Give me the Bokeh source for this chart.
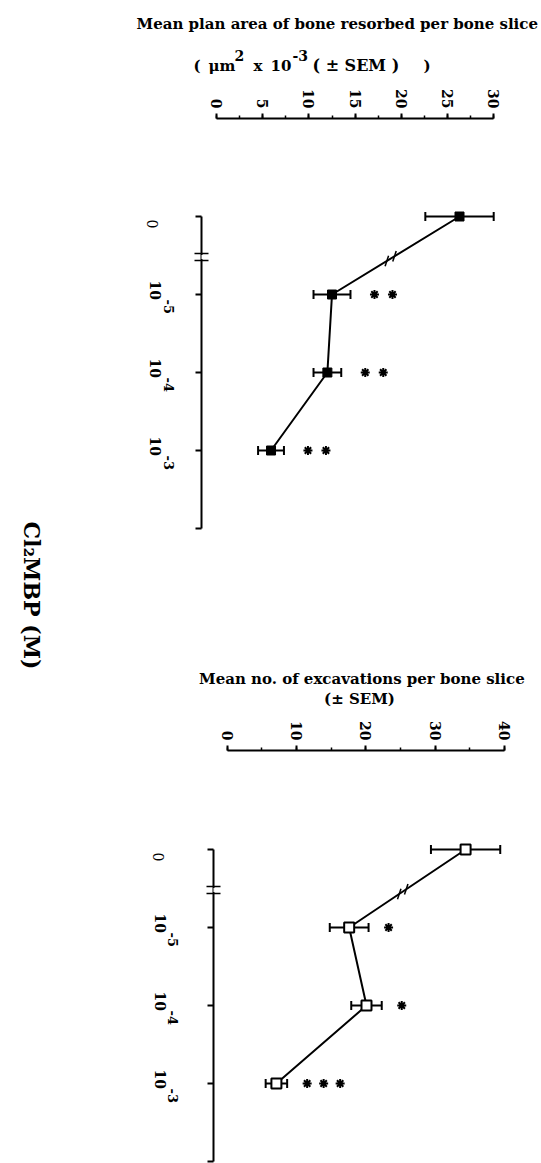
import math
from bokeh.plotting import figure
from bokeh.layouts import row, column
from bokeh.models import Range1d, SingleIntervalTicker, FixedTicker, BoxAnnotation
from bokeh.core.properties import value
from bokeh.embed import file_html
from bokeh.resources import INLINE

# ---------------- data ----------------
conc_pos = [0, 1, 2, 3]
conc_base = ["0", "10", "10", "10"]
conc_exp = ["", "-5", "-4", "-3"]

area_mean = [26.3, 12.5, 12.0, 5.9]
area_sem = [3.7, 2.0, 1.5, 1.4]
area_stars = ["", "**", "**", "**"]

exc_mean = [34.4, 17.6, 20.1, 7.1]
exc_sem = [5.0, 2.8, 2.2, 1.55]
exc_stars = ["", "*", "*", "***"]

area_title = "Mean plan area  of bone resorbed  per bone slice"
area_sub = ["(", "μm", "2", "x", "10", "-3", "( ± SEM )", ")"]
area_sub_raised = [False, False, True, False, False, True, False, False]
exc_title = "Mean no. of excavations  per bone slice"
exc_sub = "(± SEM)"
conc_title = "Cl₂MBP (M)"

FONT = "DejaVu Serif"
BREAK_AT = 0.54
NEG90 = -math.pi / 2

# ---------------- layout (page has no margin) ----------------
TOTAL_W, TOTAL_H = 541, 1163
LEFT_W = 53
COL_W = TOTAL_W - LEFT_W
LAB_W = 130
PW = COL_W - LAB_W


def plain_fig(w, h, xr, yr, **kw):
    f = figure(width=w, height=h, x_range=xr, y_range=yr, toolbar_location=None,
               output_backend="svg", x_axis_type=None, y_axis_type=None,
               outline_line_color=None, **kw)
    f.grid.visible = False
    return f


def panel(height, mbl, mbt, mbb, mbr, zero_px_off, xscale, zero_cat_off, yscale,
          xmax_axis, xint, mean, sem, stars, filled, star_gap, star_sp):
    fw = PW - mbl - mbr
    fh = height - mbt - mbb
    x0 = -zero_px_off / xscale
    x1 = x0 + fw / xscale
    ytop = -zero_cat_off / yscale
    ybot = ytop + fh / yscale
    p = figure(width=PW, height=height, x_range=Range1d(x0, x1),
               y_range=Range1d(ybot, ytop), toolbar_location=None,
               output_backend="svg", x_axis_location="above",
               min_border_left=mbl, min_border_right=mbr, min_border_top=mbt,
               min_border_bottom=mbb, outline_line_color=None)
    p.grid.visible = False

    xa = p.xaxis[0]
    xa.ticker = SingleIntervalTicker(interval=xint, num_minor_ticks=2)
    xa.bounds = (0, xmax_axis)
    xa.major_label_orientation = NEG90
    xa.major_label_text_font = FONT
    xa.major_label_text_font_style = "bold"
    xa.major_label_text_font_size = "14px"
    xa.major_label_text_color = "black"
    xa.major_label_standoff = 5
    xa.axis_line_width = 2
    xa.axis_line_color = "black"
    xa.major_tick_in = 0
    xa.major_tick_out = 5
    xa.major_tick_line_width = 2
    xa.minor_tick_in = 0
    xa.minor_tick_out = 3
    xa.minor_tick_line_width = 1.5

    ya = p.yaxis[0]
    ya.ticker = FixedTicker(ticks=conc_pos + [len(conc_pos)],
                            minor_ticks=[BREAK_AT - 0.06, BREAK_AT + 0.02])
    ya.bounds = (0, len(conc_pos))
    ya.major_label_overrides = {c: "" for c in conc_pos + [len(conc_pos)]}
    ya.major_label_standoff = 0
    ya.axis_line_width = 2
    ya.axis_line_color = "black"
    ya.major_tick_in = 0
    ya.major_tick_out = 6
    ya.major_tick_line_width = 2
    ya.minor_tick_in = 7
    ya.minor_tick_out = 7
    ya.minor_tick_line_width = 1.5

    # gap in the category axis at the break
    p.add_layout(BoxAnnotation(left=x0 - 2, right=x0 + 0.2,
                               bottom=BREAK_AT - 0.045, top=BREAK_AT + 0.005,
                               fill_color="white", fill_alpha=1, line_color=None))

    lo = [m - s for m, s in zip(mean, sem)]
    hi = [m + s for m, s in zip(mean, sem)]

    p.line(mean, conc_pos, line_color="black", line_width=2)
    d = 0.03
    bxa = mean[0] + (mean[1] - mean[0]) * (BREAK_AT - d)
    bxb = mean[0] + (mean[1] - mean[0]) * (BREAK_AT + d)
    p.scatter([bxa, bxb], [BREAK_AT - d, BREAK_AT + d], marker="dash", size=11,
              angle=1.25, line_color="black", line_width=1.5)

    p.segment(lo, conc_pos, hi, conc_pos, line_color="black", line_width=2)
    p.scatter(lo + hi, conc_pos + conc_pos, marker="dash", angle=math.pi / 2,
              size=9, line_color="black", line_width=2)
    if filled:
        p.scatter(mean, conc_pos, marker="square", size=9, fill_color="black",
                  line_color="black", line_width=1)
    else:
        p.scatter(mean, conc_pos, marker="square", size=10, fill_color="white",
                  line_color="black", line_width=2)

    sx, sy = [], []
    for c, h, s in zip(conc_pos, hi, stars):
        for k in range(len(s)):
            sx.append(h + (star_gap + k * star_sp) / xscale)
            sy.append(c)
    p.scatter(sx, sy, marker="asterisk", size=9, line_color="black", line_width=2)
    return p


def label_fig(p, height, mbt, mbb, zero_x, base_x, exp_x):
    f = plain_fig(LAB_W, height, Range1d(0, LAB_W), p.y_range,
                  min_border_left=0, min_border_right=0,
                  min_border_top=mbt, min_border_bottom=mbb)
    zi = [i for i, e in enumerate(conc_exp) if e == ""]
    pi_ = [i for i, e in enumerate(conc_exp) if e != ""]
    common = dict(angle=NEG90, text_align="left", text_baseline="alphabetic",
                  text_font=value(FONT), text_color="black")
    f.text(x=[zero_x] * len(zi), y=[conc_pos[i] for i in zi],
           text=[conc_base[i] for i in zi], y_offset=3,
           text_font_size="14px", text_font_style="normal", **common)
    f.text(x=[base_x] * len(pi_), y=[conc_pos[i] for i in pi_],
           text=[conc_base[i] for i in pi_], y_offset=-14,
           text_font_size="14px", text_font_style="bold", **common)
    f.text(x=[exp_x] * len(pi_), y=[conc_pos[i] for i in pi_],
           text=[conc_exp[i] for i in pi_], y_offset=5,
           text_font_size="13px", text_font_style="bold", **common)
    return f


# ---- header 1 (page y 0..80) ----
HH1 = 80
# ---- top panel (page y 80..600) ----
H1 = 520
# ---- header 2 (page y 600..712) ----
HH2 = 112
# ---- bottom panel (page y 712..1163) ----
H2 = TOTAL_H - HH1 - H1 - HH2

p1 = panel(H1, mbl=18, mbt=38, mbb=60, mbr=3, zero_px_off=15, xscale=9.24,
           zero_cat_off=98, yscale=78, xmax_axis=30, xint=5,
           mean=area_mean, sem=area_sem, stars=area_stars, filled=True,
           star_gap=24, star_sp=18)
l1 = label_fig(p1, H1, 38, 60, zero_x=99, base_x=102, exp_x=115)

p2 = panel(H2, mbl=30, mbt=38, mbb=0, mbr=3, zero_px_off=13.7, xscale=6.93,
           zero_cat_off=99, yscale=78, xmax_axis=40, xint=10,
           mean=exc_mean, sem=exc_sem, stars=exc_stars, filled=False,
           star_gap=20, star_sp=16.5)
l2 = label_fig(p2, H2, 38, 0, zero_x=105, base_x=107, exp_x=119)

TF = dict(text_font=value(FONT), text_font_style="bold", text_color="black",
          text_baseline="alphabetic")
h1 = plain_fig(COL_W, HH1, Range1d(0, COL_W), Range1d(HH1, 0), min_border=0)
h1.text(x=[289], y=[23], text=[area_title], text_align="center",
        text_font_size="15px", **TF)
sub_x = [140, 155, 181, 200, 217, 239, 259, 370]
sub_y = [55 if r else 65 for r in area_sub_raised]
sub_sz = ["15px", "15px", "14px", "15px", "15px", "14px", "16px", "15px"]
h1.text(x=sub_x, y=sub_y, text=area_sub, text_align="left",
        text_font_size=sub_sz, **TF)

h2 = plain_fig(COL_W, HH2, Range1d(0, COL_W), Range1d(HH2, 0), min_border=0)
h2.text(x=[311], y=[78], text=[exc_title], text_align="center",
        text_font_size="15px", **TF)
h2.text(x=[306], y=[98], text=[exc_sub], text_align="center",
        text_font_size="15px", **TF)

lf = plain_fig(LEFT_W, TOTAL_H, Range1d(0, LEFT_W), Range1d(TOTAL_H, 0), min_border=0)
lf.text(x=[31], y=[595], text=[conc_title], angle=NEG90, text_align="center",
        text_baseline="middle", text_font=value(FONT), text_font_style="bold",
        text_font_size="22px", text_color="black")

right = column(h1, row(l1, p1, spacing=0), h2, row(l2, p2, spacing=0), spacing=0)
layout = row(lf, right, spacing=0)

open("out.html", "w").write(file_html(layout, INLINE))
